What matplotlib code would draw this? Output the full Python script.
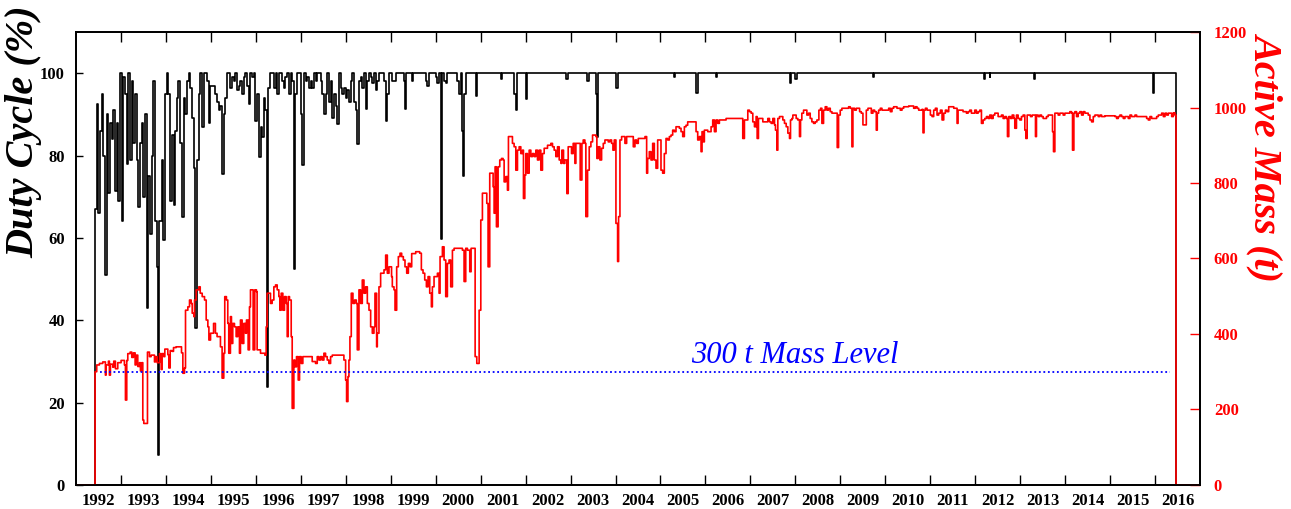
import matplotlib
matplotlib.use("Agg")
import matplotlib.pyplot as plt
from matplotlib.ticker import FixedLocator, NullFormatter

# duty cycle of the detector (%)
duty_years = [
    1992.000, 1992.423, 1992.460, 1992.497, 1992.535, 1992.572, 1992.609, 1992.646, 1992.683,
    1992.720, 1992.757, 1992.794, 1992.831, 1992.869, 1992.906, 1992.943, 1992.980,
    1993.017, 1993.054, 1993.091, 1993.128, 1993.166, 1993.203, 1993.240, 1993.277,
    1993.314, 1993.351, 1993.388, 1993.425, 1993.463, 1993.500, 1993.537, 1993.574,
    1993.611, 1993.648, 1993.685, 1993.722, 1993.759, 1993.797, 1993.826, 1993.840,
    1993.871, 1993.908, 1993.945, 1993.982, 1994.019, 1994.056, 1994.094, 1994.131,
    1994.168, 1994.205, 1994.242, 1994.279, 1994.316, 1994.353, 1994.391, 1994.428,
    1994.465, 1994.502, 1994.539, 1994.576, 1994.613, 1994.650, 1994.687, 1994.725,
    1994.762, 1994.799, 1994.836, 1994.910, 1994.947, 1994.984,
    1995.026, 1995.063, 1995.100, 1995.137, 1995.175, 1995.212, 1995.249, 1995.286,
    1995.323, 1995.360, 1995.397, 1995.434, 1995.472, 1995.509, 1995.546, 1995.583,
    1995.620, 1995.657, 1995.694, 1995.731, 1995.769, 1995.806, 1995.843, 1995.880,
    1995.917, 1995.954, 1995.991, 1996.028, 1996.066, 1996.103, 1996.140, 1996.177,
    1996.214, 1996.251, 1996.265, 1996.325, 1996.362, 1996.400, 1996.437, 1996.474,
    1996.511, 1996.548, 1996.585, 1996.622, 1996.659, 1996.697, 1996.734, 1996.771,
    1996.808, 1996.845, 1996.860, 1996.919, 1996.956, 1996.993, 1997.031, 1997.068,
    1997.105, 1997.142, 1997.179, 1997.216, 1997.253, 1997.290, 1997.327, 1997.365,
    1997.402, 1997.439, 1997.476, 1997.513, 1997.550, 1997.587, 1997.624, 1997.662,
    1997.699, 1997.736, 1997.773, 1997.810, 1997.847, 1997.884, 1997.921, 1997.958,
    1997.996, 1998.033, 1998.070, 1998.107, 1998.144, 1998.182, 1998.219, 1998.256,
    1998.293, 1998.330, 1998.367, 1998.404, 1998.441, 1998.479, 1998.516, 1998.553,
    1998.590, 1998.627, 1998.664, 1998.701, 1998.738, 1998.850, 1998.887, 1998.924,
    1998.961, 1999.035, 1999.110, 1999.295, 1999.317, 1999.347, 1999.481, 1999.500,
    1999.778, 1999.815, 1999.852, 2000.000, 2000.038, 2000.075, 2000.112, 2000.127,
    2000.140, 2000.186, 2000.223, 2000.260, 2000.483, 2000.520, 2000.557, 2000.594,
    2000.617, 2000.635, 2000.684, 2000.891, 2000.929,
    2001.447, 2001.485, 2001.744, 2001.782, 2001.819, 2002.004, 2002.041, 2002.895,
    2002.932, 2003.363, 2003.400, 2003.563, 2003.585, 2003.615, 2004.009, 2004.046,
    2005.308, 2005.330, 2005.791, 2005.828, 2006.236, 2006.260, 2007.870, 2007.907,
    2007.996, 2008.026, 2009.720, 2009.740, 2012.190, 2012.215, 2012.320, 2012.340,
    2013.300, 2013.325, 2015.947, 2015.984, 2016.467,
]
duty_pct = [
    0, 67, 92.5, 66, 86, 95, 80, 51, 90,
    71, 88, 84, 91, 71.5, 88, 69, 100,
    64, 99, 95, 78, 100, 79, 98, 83,
    95, 79, 67.5, 83, 88, 70, 90, 43,
    75, 61, 80, 98, 64, 53, 7.3, 64,
    64, 79, 59.4, 95, 100, 95, 69, 85,
    68, 86, 94, 98, 83, 65, 94, 90,
    98, 100, 96.5, 89, 77, 38, 79, 95,
    100, 87, 100, 98, 88, 97,
    97, 97, 95, 93, 91, 92, 75.5, 90,
    94, 100, 100, 96.5, 99, 98, 100, 96,
    97, 98, 95, 99, 100, 97, 92.5, 100,
    99, 100, 88.5, 95, 79.6, 87, 84.5, 94,
    91, 23.8, 96.5, 100, 100, 96.5, 100, 95,
    100, 100, 98, 96.5, 99, 100, 95, 100,
    98, 52.5, 95, 100, 100, 90, 77.6, 100,
    98, 99, 96.5, 98, 96.5, 100, 98, 100,
    100, 98, 95, 90, 95, 100, 93, 98,
    89, 95, 92, 87.6, 100, 96.5, 95, 96.5,
    94, 96, 93, 98, 100, 93, 91, 82.8,
    98, 99, 96.5, 100, 91.3, 98, 100, 99,
    97.5, 100, 96, 98, 100, 98, 88.5, 95,
    100, 98, 100, 98, 91.3, 100, 98, 100,
    98, 97, 100, 99, 97.5, 100, 95, 59.8,
    100, 98, 97.5, 100, 98, 95, 100, 86,
    75.1, 95, 100, 94.5, 100,
    98.6, 100, 95, 91, 100, 93.7, 100, 98.6,
    100, 98, 100, 95, 84.4, 100, 96.5, 100,
    99, 100, 95.3, 100, 99, 100, 97.7, 100,
    98.5, 100, 99, 100, 98.5, 100, 99, 100,
    98.5, 100, 95.3, 100, 0,
]

# active mass (t)
mass_years = [
    1992.000, 1992.423, 1992.460, 1992.520, 1992.594, 1992.653, 1992.668, 1992.720,
    1992.742, 1992.765, 1992.817, 1992.839, 1992.876, 1992.928, 1993.002, 1993.076,
    1993.099, 1993.128, 1993.151, 1993.203, 1993.240, 1993.277, 1993.314, 1993.336,
    1993.373, 1993.411, 1993.433, 1993.463, 1993.485, 1993.507, 1993.574, 1993.589,
    1993.633, 1993.670, 1993.745, 1993.767, 1993.804, 1993.856, 1993.893, 1993.915,
    1993.952, 1993.975, 1994.042, 1994.064, 1994.094, 1994.138, 1994.168, 1994.227,
    1994.346, 1994.376, 1994.413, 1994.435, 1994.487, 1994.524, 1994.561, 1994.584,
    1994.621, 1994.636, 1994.673, 1994.732, 1994.762, 1994.806, 1994.858, 1994.895,
    1994.932, 1994.955, 1994.992, 1995.059,
    1995.100, 1995.137, 1995.212, 1995.249, 1995.286, 1995.308, 1995.345, 1995.375,
    1995.397, 1995.434, 1995.457, 1995.486, 1995.524, 1995.561, 1995.598, 1995.635,
    1995.657, 1995.694, 1995.731, 1995.769, 1995.791, 1995.828, 1995.858, 1995.880,
    1995.917, 1995.939, 1995.976, 1996.013, 1996.028, 1996.103, 1996.177, 1996.199,
    1996.229, 1996.251, 1996.325, 1996.362, 1996.400, 1996.437, 1996.474, 1996.511,
    1996.533, 1996.563, 1996.600, 1996.637, 1996.674, 1996.697, 1996.719, 1996.748,
    1996.786, 1996.808, 1996.845, 1996.867, 1996.904, 1996.942, 1996.971, 1997.008,
    1997.045, 1997.253, 1997.327, 1997.365, 1997.402, 1997.439, 1997.476, 1997.513,
    1997.550, 1997.587, 1997.624, 1997.662, 1997.699, 1997.958, 1997.996, 1998.018,
    1998.048, 1998.070, 1998.092,
    1998.122, 1998.159, 1998.196, 1998.234, 1998.256, 1998.293, 1998.330, 1998.367,
    1998.404, 1998.441, 1998.479, 1998.516, 1998.553, 1998.590, 1998.627, 1998.649,
    1998.686, 1998.701, 1998.738, 1998.775, 1998.850, 1998.887, 1998.924, 1998.961,
    1999.018, 1999.035, 1999.072, 1999.095, 1999.132, 1999.169, 1999.206, 1999.243,
    1999.280, 1999.317, 1999.355, 1999.392, 1999.429, 1999.466, 1999.555, 1999.644,
    1999.681, 1999.718, 1999.756, 1999.793, 1999.830, 1999.867, 1999.904, 1999.926,
    1999.963, 2000.038, 2000.075, 2000.097, 2000.149, 2000.186, 2000.223, 2000.260,
    2000.297, 2000.334, 2000.372, 2000.409, 2000.594, 2000.631, 2000.668, 2000.706,
    2000.758, 2000.787, 2000.877, 2000.914, 2000.966, 2001.003,
    2001.039, 2001.136, 2001.165, 2001.202, 2001.277, 2001.299, 2001.321, 2001.351,
    2001.388, 2001.425, 2001.462, 2001.499, 2001.522, 2001.559, 2001.596, 2001.618,
    2001.707, 2001.744, 2001.782, 2001.819, 2001.856, 2001.893, 2001.930, 2001.952,
    2001.982, 2002.004, 2002.041, 2002.079, 2002.116, 2002.153, 2002.190, 2002.227,
    2002.264, 2002.301, 2002.338, 2002.375, 2002.413, 2002.487, 2002.561, 2002.598,
    2002.635, 2002.672, 2002.710, 2002.747, 2002.784, 2002.806, 2002.843, 2002.873,
    2002.917, 2002.947, 2003.021, 2003.058, 2003.096, 2003.118, 2003.192, 2003.214,
    2003.252, 2003.281, 2003.318, 2003.340, 2003.378, 2003.415, 2003.452, 2003.489,
    2003.563, 2003.585, 2003.615, 2003.652, 2003.690, 2003.727, 2003.764, 2003.838,
    2003.875, 2003.912, 2003.942, 2003.972, 2004.009, 2004.046,
    2004.068, 2004.098, 2004.135, 2004.209, 2004.247, 2004.321, 2004.395, 2004.432,
    2004.469, 2004.506, 2004.655, 2004.692, 2004.714, 2004.751, 2004.789, 2004.826,
    2004.863, 2004.900, 2004.937, 2004.974, 2005.011, 2005.048, 2005.085, 2005.123,
    2005.160, 2005.197, 2005.234, 2005.271, 2005.308, 2005.345, 2005.420, 2005.457,
    2005.494, 2005.531, 2005.568, 2005.605, 2005.754, 2005.791, 2005.828, 2005.865,
    2005.902, 2005.924, 2005.954, 2005.976, 2006.051, 2006.125, 2006.162, 2006.199,
    2006.236, 2006.273, 2006.310, 2006.459, 2006.645, 2006.830, 2006.867, 2006.942,
    2006.979, 2007.016, 2007.053,
    2007.090, 2007.127, 2007.150, 2007.179, 2007.276, 2007.387, 2007.424, 2007.461,
    2007.499, 2007.536, 2007.558, 2007.588, 2007.610, 2007.647, 2007.721, 2007.758,
    2007.796, 2007.833, 2007.870, 2007.892, 2007.922, 2007.944, 2008.018, 2008.055,
    2008.092, 2008.115, 2008.144, 2008.182, 2008.256, 2008.293, 2008.330, 2008.367,
    2008.404, 2008.441, 2008.479, 2008.523, 2008.560, 2008.590, 2008.627, 2008.664,
    2008.701, 2008.738, 2008.776, 2008.813, 2008.909, 2008.931, 2008.961, 2008.998,
    2009.035, 2009.147, 2009.184, 2009.221, 2009.258, 2009.280, 2009.318, 2009.355,
    2009.429, 2009.466, 2009.503, 2009.578, 2009.615, 2009.689, 2009.726, 2009.763,
    2009.800, 2009.822, 2009.852, 2009.889, 2009.926, 2010.075, 2010.112, 2010.149,
    2010.186, 2010.260, 2010.334, 2010.372, 2010.409, 2010.520, 2010.631, 2010.669,
    2010.706, 2010.743, 2010.817, 2010.839, 2010.862, 2010.892, 2010.929, 2011.003,
    2011.040, 2011.077, 2011.114, 2011.151, 2011.188, 2011.226, 2011.263, 2011.300,
    2011.337, 2011.374, 2011.411, 2011.523, 2011.597, 2011.619, 2011.730, 2011.805,
    2011.842, 2011.879, 2011.916, 2011.990, 2012.027, 2012.065, 2012.102, 2012.139,
    2012.176, 2012.213, 2012.250, 2012.287, 2012.324, 2012.361, 2012.399, 2012.436,
    2012.510, 2012.584, 2012.621, 2012.658, 2012.695, 2012.718, 2012.747, 2012.785,
    2012.822, 2012.859, 2012.881, 2012.918, 2012.955, 2012.992, 2013.029, 2013.066,
    2013.104, 2013.126, 2013.156, 2013.230, 2013.267, 2013.341, 2013.363, 2013.401,
    2013.438, 2013.475, 2013.512, 2013.586, 2013.623, 2013.720, 2013.742, 2013.772,
    2013.846, 2013.883, 2013.957, 2013.994, 2014.105, 2014.143, 2014.165, 2014.195,
    2014.217, 2014.254, 2014.291, 2014.328, 2014.366, 2014.403, 2014.440, 2014.514,
    2014.552, 2014.589, 2014.626, 2014.663, 2014.737, 2014.774, 2014.812, 2014.886,
    2014.960, 2015.108, 2015.145, 2015.182, 2015.219, 2015.257, 2015.294, 2015.331,
    2015.405, 2015.442, 2015.479, 2015.554, 2015.591, 2015.813, 2015.850, 2015.887,
    2015.925, 2016.036, 2016.073, 2016.147, 2016.185, 2016.222, 2016.259, 2016.296,
    2016.333, 2016.370, 2016.407, 2016.444, 2016.467, 2017.000,
]
mass_tonnes = [
    0, 300, 318, 322, 326, 291, 318, 328,
    291, 320, 312, 328, 308, 324, 330, 318,
    225, 330, 348, 352, 338, 350, 318, 344,
    314, 324, 302, 324, 172, 163, 163, 352,
    340, 344, 326, 340, 324, 348, 306, 348,
    340, 360, 345, 310, 356, 354, 364, 366,
    350, 296, 310, 463, 472, 490, 481, 455,
    446, 490, 517, 525, 508, 499, 490, 437,
    419, 384, 402, 428,
    402, 393, 366, 283, 349, 499, 490, 428,
    349, 446, 375, 428, 419, 393, 419, 349,
    437, 375, 428, 402, 437, 358, 472, 517,
    517, 358, 517, 512, 358, 349, 349, 344,
    419, 508, 481, 490, 525, 530, 517, 499,
    463, 508, 463, 499, 481, 393, 499, 490,
    393, 203, 331, 313, 340, 278, 340, 322,
    340, 327, 322, 340, 331, 340, 331, 349,
    340, 331, 322, 340, 344, 331, 278, 221,
    287, 331, 393,
    508, 481, 490, 481, 358, 517, 481, 543,
    508, 525, 481, 463, 419, 402, 419, 508,
    366, 402, 525, 561, 570, 609, 561, 578,
    552, 525, 517, 463, 578, 605, 614, 605,
    596, 578, 561, 587, 578, 613, 618, 614,
    570, 561, 543, 525, 552, 508, 472, 525,
    552, 561, 508, 605, 631, 596, 499, 587,
    596, 525, 622, 627, 622, 539, 627, 622,
    565, 627, 340, 322, 463, 702,
    773, 746, 578, 826, 790, 720, 843, 684,
    843, 861, 865, 861, 803, 817, 781, 923,
    905, 896, 834, 887, 896, 878, 887, 759,
    821, 878, 826, 887, 870, 878, 870, 887,
    861, 887, 834, 878, 892, 900, 905, 896,
    887, 870, 896, 861, 852, 887, 852, 861,
    772, 896, 878, 905, 852, 905, 905, 808,
    905, 914, 905, 711, 834, 896, 909, 927,
    923, 865, 896, 861, 892, 905, 914, 909,
    914, 905, 887, 914, 693, 592,
    711, 914, 923, 905, 923, 923, 896, 914,
    905, 918, 923, 826, 865, 883, 861, 905,
    861, 839, 914, 914, 834, 826, 878, 918,
    914, 923, 927, 940, 936, 949, 945, 936,
    923, 949, 953, 962, 962, 936, 914, 923,
    883, 936, 909, 940, 936, 949, 967, 936,
    967, 958, 967, 971, 971, 918, 967, 993,
    989, 985, 962,
    949, 976, 918, 971, 962, 971, 962, 958,
    971, 954, 940, 887, 971, 976, 967, 958,
    949, 932, 918, 967, 971, 980, 971, 967,
    923, 967, 985, 993, 980, 985, 971, 962,
    958, 962, 967, 993, 998, 958, 993, 1002,
    993, 998, 989, 985, 985, 894, 980, 993,
    998, 998, 1002, 998, 896, 998, 993, 998,
    989, 985, 954, 993, 998, 985, 993, 989,
    940, 985, 993, 998, 993, 998, 989, 998,
    1002, 998, 993, 998, 1002, 1004, 998, 1002,
    998, 993, 995, 933, 993, 998, 993, 980,
    976, 993, 998, 980, 985, 993, 967, 985,
    993, 989, 1002, 998, 958, 993, 989, 985,
    989, 993, 985, 993, 985, 989, 993, 958,
    967, 971, 976, 971, 980, 971, 980, 985,
    976, 980, 971, 976, 971, 923, 976, 971,
    980, 971, 945, 980, 971, 967, 976, 980,
    940, 918, 980, 976, 980, 923, 980, 976,
    980, 976, 971, 976, 980, 936, 883, 985,
    980, 985, 980, 985, 989, 985, 887, 985,
    989, 976, 985, 989, 980, 989, 985, 980,
    967, 962, 976, 980, 976, 980, 976, 978,
    978, 976, 971, 976, 980, 976, 971, 976,
    971, 980, 976, 980, 976, 971, 967, 976,
    971, 976, 980, 985, 976, 985, 980, 985,
    985, 976, 986, 980, 0, 0,
]

# 300 t reference level
level_mass = 300
level_span = [1992.54, 2016.33]
level_text = "300 t Mass Level"

year_labels = [str(y) for y in range(1992, 2017)]
duty_ticks = [0, 20, 40, 60, 80, 100]
mass_ticks = [0, 200, 400, 600, 800, 1000, 1200]

serif = "Liberation Serif"
W, H = 1291, 509

fig = plt.figure(figsize=(W / 100, H / 100), dpi=100)
ax = fig.add_axes([0.0589, 0.0472, 0.8706, 0.8899])
ax2 = ax.twinx()

ax.plot(duty_years, duty_pct, drawstyle="steps-post", color="black", lw=1.2)
ax2.plot(mass_years, mass_tonnes, drawstyle="steps-post", color="red", lw=1.2)
ax2.plot(level_span, [level_mass, level_mass], color="blue", lw=1.3,
         linestyle=(0, (1, 1.5)))
ax2.text(2005.68, 322, level_text, color="blue", fontsize=22, family=serif,
         style="italic", ha="left", va="baseline")

ax.set_xlim(1992.0, 2017.0)
ax.set_ylim(0, 110)
ax2.set_ylim(0, 1200)

# ticks on the year boundaries, labels centred in each year
ax.xaxis.set_major_locator(FixedLocator(range(1993, 2017)))
ax.xaxis.set_major_formatter(NullFormatter())
ax.xaxis.set_minor_locator(FixedLocator([y + 0.5 for y in range(1992, 2017)]))
ax.set_xticklabels(year_labels, minor=True)
ax.tick_params(axis="x", which="major", direction="in", length=7, width=1,
               top=True, bottom=True)
ax.tick_params(axis="x", which="minor", length=0, pad=6)
for lab in ax.get_xticklabels(minor=True):
    lab.set_family(serif)
    lab.set_fontweight("bold")
    lab.set_fontsize(12)

ax.set_yticks(duty_ticks)
ax.tick_params(axis="y", direction="in", length=5, width=1, pad=8)
for lab in ax.get_yticklabels():
    lab.set_family(serif)
    lab.set_fontweight("bold")
    lab.set_fontsize(12)

ax2.set_yticks(mass_ticks)
ax2.tick_params(axis="y", direction="in", length=7, width=1, colors="red", pad=10)
for lab in ax2.get_yticklabels():
    lab.set_family(serif)
    lab.set_fontweight("bold")
    lab.set_fontsize(12)
    lab.set_color("red")

for a in (ax, ax2):
    for s in a.spines.values():
        s.set_linewidth(1.3)
        s.set_color("black")

fig.text(24 / W, 1 - 132 / H, "Duty Cycle (%)", family=serif, fontsize=29,
         fontweight="bold", style="italic", color="black", rotation=90,
         ha="center", va="center")
fig.text(1266 / W, 1 - 156 / H, "Active Mass (t)", family=serif, fontsize=29,
         fontweight="bold", style="italic", color="red", rotation=270,
         ha="center", va="center")

fig.savefig("out.png", dpi=100)
